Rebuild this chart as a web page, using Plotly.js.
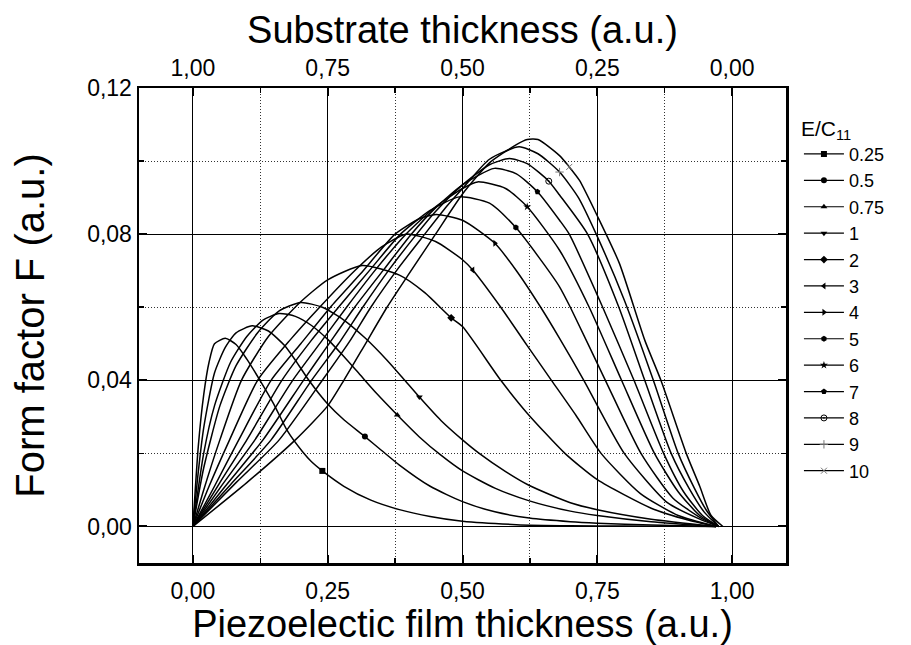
<!DOCTYPE html>
<html>
<head>
<meta charset="utf-8">
<script src="https://cdn.plot.ly/plotly-3.0.1.min.js"></script>
<style>
  html, body { margin: 0; padding: 0; background: #fff; }
  #chart { width: 911px; height: 645px; }
</style>
</head>
<body>
<div id="chart"></div>
<script>
// ---- Data ----
const CURVE_NAMES = ['0.25', '0.5', '0.75', '1', '2', '3', '4', '5', '6', '7', '8', '9', '10'];

const X_E025 = [0, 0.01, 0.02, 0.03, 0.04, 0.06, 0.08, 0.10, 0.126, 0.15, 0.175, 0.203, 0.22, 0.24, 0.28, 0.33, 0.383, 0.44, 0.5, 0.6, 0.7, 0.8, 0.9, 0.97];
const F_E025 = [0, 0.022, 0.036, 0.045, 0.050, 0.0515, 0.0498, 0.0458, 0.0396, 0.0335, 0.0262, 0.0205, 0.0177, 0.0152, 0.0110, 0.0072, 0.0046, 0.0027, 0.0014, 0.0005, 0.0002, 0.0001, 0.00005, 0];

const X_E05 = [0, 0.01, 0.02, 0.04, 0.06, 0.08, 0.11, 0.14, 0.17, 0.19, 0.215, 0.25, 0.28, 0.319, 0.35, 0.383, 0.44, 0.5, 0.56, 0.624, 0.7, 0.75, 0.85, 0.97];
const F_E05 = [0, 0.015, 0.027, 0.042, 0.049, 0.0530, 0.0549, 0.0535, 0.0495, 0.0455, 0.040, 0.0335, 0.0292, 0.0246, 0.0208, 0.0168, 0.0110, 0.0068, 0.0040, 0.0023, 0.0013, 0.0009, 0.0004, 0];

const X_E075 = [0, 0.02, 0.04, 0.07, 0.10, 0.13, 0.16, 0.19, 0.22, 0.25, 0.28, 0.31, 0.34, 0.379, 0.42, 0.46, 0.5, 0.56, 0.624, 0.7, 0.75, 0.85, 0.97];
const F_E075 = [0, 0.020, 0.033, 0.045, 0.052, 0.0565, 0.0583, 0.0575, 0.0550, 0.0512, 0.0465, 0.0415, 0.0365, 0.0305, 0.0245, 0.0195, 0.0152, 0.0105, 0.0070, 0.0042, 0.0030, 0.0013, 0];

const X_E1 = [0, 0.02, 0.05, 0.08, 0.12, 0.16, 0.20, 0.24, 0.28, 0.32, 0.36, 0.39, 0.42, 0.46, 0.5, 0.531, 0.58, 0.624, 0.7, 0.75, 0.85, 0.97];
const F_E1 = [0, 0.016, 0.033, 0.044, 0.053, 0.0590, 0.0613, 0.0600, 0.0565, 0.0515, 0.0455, 0.0405, 0.0354, 0.0290, 0.0237, 0.0200, 0.0150, 0.0112, 0.0065, 0.0046, 0.0020, 0];

const X_E2 = [0, 0.02, 0.05, 0.09, 0.14, 0.20, 0.25, 0.314, 0.383, 0.43, 0.479, 0.5, 0.571, 0.62, 0.69, 0.75, 0.85, 0.92, 0.97];
const F_E2 = [0, 0.010, 0.0237, 0.040, 0.052, 0.0615, 0.0675, 0.0714, 0.0688, 0.0640, 0.0571, 0.0547, 0.040, 0.031, 0.020, 0.0128, 0.0050, 0.0017, 0];

const X_E3 = [0, 0.03, 0.068, 0.12, 0.18, 0.235, 0.30, 0.35, 0.395, 0.45, 0.5, 0.519, 0.571, 0.62, 0.665, 0.71, 0.757, 0.83, 0.90, 0.97];
const F_E3 = [0, 0.011, 0.0237, 0.040, 0.051, 0.060, 0.070, 0.0765, 0.080, 0.0780, 0.0730, 0.0702, 0.060, 0.0495, 0.040, 0.0305, 0.020, 0.009, 0.003, 0];

const X_E4 = [0, 0.04, 0.085, 0.145, 0.20, 0.255, 0.31, 0.375, 0.42, 0.451, 0.5, 0.56, 0.60, 0.645, 0.68, 0.725, 0.80, 0.88, 0.94, 0.975];
const F_E4 = [0, 0.011, 0.0237, 0.040, 0.050, 0.060, 0.069, 0.080, 0.0842, 0.0854, 0.0838, 0.0775, 0.070, 0.060, 0.0515, 0.040, 0.020, 0.0065, 0.002, 0];

const X_E5 = [0, 0.05, 0.10, 0.165, 0.22, 0.27, 0.33, 0.385, 0.44, 0.494, 0.55, 0.599, 0.64, 0.68, 0.70, 0.765, 0.831, 0.89, 0.94, 0.975];
const F_E5 = [0, 0.012, 0.0237, 0.040, 0.051, 0.060, 0.0705, 0.080, 0.0865, 0.0902, 0.0885, 0.0818, 0.074, 0.0656, 0.060, 0.040, 0.020, 0.0078, 0.0025, 0];

const X_E6 = [0, 0.05, 0.115, 0.185, 0.24, 0.285, 0.34, 0.395, 0.45, 0.5, 0.528, 0.58, 0.62, 0.68, 0.735, 0.795, 0.856, 0.90, 0.94, 0.975];
const F_E6 = [0, 0.0105, 0.0237, 0.040, 0.051, 0.060, 0.0705, 0.080, 0.0875, 0.0925, 0.0943, 0.0925, 0.0875, 0.0756, 0.060, 0.040, 0.020, 0.0095, 0.003, 0];

const X_E7 = [0, 0.06, 0.13, 0.205, 0.25, 0.30, 0.355, 0.405, 0.45, 0.5, 0.559, 0.60, 0.639, 0.68, 0.698, 0.76, 0.818, 0.873, 0.91, 0.945, 0.975];
const F_E7 = [0, 0.011, 0.0237, 0.040, 0.0495, 0.060, 0.0705, 0.080, 0.0872, 0.0935, 0.098, 0.0965, 0.0916, 0.0838, 0.080, 0.060, 0.040, 0.020, 0.0095, 0.003, 0];

const X_E8 = [0, 0.07, 0.145, 0.22, 0.27, 0.315, 0.365, 0.415, 0.45, 0.5, 0.55, 0.587, 0.62, 0.66, 0.68, 0.732, 0.79, 0.838, 0.887, 0.92, 0.948, 0.975];
const F_E8 = [0, 0.0115, 0.0237, 0.040, 0.050, 0.060, 0.0705, 0.080, 0.0862, 0.0935, 0.0990, 0.1007, 0.0993, 0.0945, 0.0907, 0.080, 0.060, 0.040, 0.020, 0.0105, 0.004, 0];

const X_E9 = [0, 0.08, 0.16, 0.24, 0.29, 0.33, 0.38, 0.43, 0.47, 0.5, 0.55, 0.605, 0.64, 0.68, 0.715, 0.748, 0.80, 0.854, 0.90, 0.93, 0.952, 0.975];
const F_E9 = [0, 0.012, 0.0237, 0.040, 0.0505, 0.060, 0.0705, 0.080, 0.0875, 0.0925, 0.1005, 0.1039, 0.1020, 0.097, 0.090, 0.080, 0.062, 0.040, 0.020, 0.0105, 0.0045, 0];

const X_E10 = [0, 0.10, 0.19, 0.25, 0.28, 0.32, 0.36, 0.40, 0.45, 0.5, 0.55, 0.60, 0.62, 0.64, 0.68, 0.698, 0.717, 0.751, 0.791, 0.838, 0.868, 0.915, 0.94, 0.961, 0.983];
const F_E10 = [0, 0.012, 0.0237, 0.033, 0.040, 0.050, 0.060, 0.069, 0.080, 0.091, 0.0995, 0.1045, 0.1059, 0.1059, 0.1015, 0.0984, 0.0947, 0.0847, 0.072, 0.051, 0.040, 0.020, 0.011, 0.003, 0];

// one symbol point on every curve
const MARK_X = [0.24, 0.319, 0.379, 0.42, 0.479, 0.519, 0.56, 0.599, 0.62, 0.639, 0.66, 0.68, 0.698];
const MARK_F = [0.0152, 0.0246, 0.0305, 0.0354, 0.0571, 0.0702, 0.0775, 0.0818, 0.0875, 0.0916, 0.0945, 0.097, 0.0984];

// ---- Styles ----
const CURVES_X = [X_E025, X_E05, X_E075, X_E1, X_E2, X_E3, X_E4, X_E5, X_E6, X_E7, X_E8, X_E9, X_E10];
const CURVES_F = [F_E025, F_E05, F_E075, F_E1, F_E2, F_E3, F_E4, F_E5, F_E6, F_E7, F_E8, F_E9, F_E10];
const SYMBOLS = ['square', 'circle', 'triangle-up', 'triangle-down', 'diamond', 'triangle-left', 'triangle-right',
                 'hexagon', 'star', 'pentagon', 'circle-open-dot', 'cross-thin-open', 'x-thin-open'];
const MARK_COLORS = ['#000', '#000', '#000', '#000', '#000', '#000', '#000', '#000', '#000', '#000', '#000', '#777', '#777'];

const FONT = 'Liberation Sans, Arial, Helvetica, sans-serif';
const traces = [];

CURVE_NAMES.forEach((name, i) => {
  traces.push({
    x: CURVES_X[i], y: CURVES_F[i],
    type: 'scatter', mode: 'lines',
    line: { color: '#000', width: 1.5, shape: 'spline', smoothing: 0.6 },
    showlegend: false, hoverinfo: 'skip', legendgroup: 'g' + i
  });
});
CURVE_NAMES.forEach((name, i) => {
  const open = SYMBOLS[i].indexOf('open') >= 0;
  traces.push({
    x: [MARK_X[i]], y: [MARK_F[i]],
    type: 'scatter', mode: 'lines+markers', name: name,
    line: { color: '#000', width: 1.2 },
    marker: {
      symbol: SYMBOLS[i], size: 6,
      color: MARK_COLORS[i],
      line: { color: MARK_COLORS[i], width: open ? 1 : 0 }
    },
    legendgroup: 'g' + i
  });
});
// empty trace so the top (substrate) axis is drawn
traces.push({ x: [], y: [], xaxis: 'x2', type: 'scatter', mode: 'lines', showlegend: false, hoverinfo: 'skip' });

const tickCommon = {
  ticks: 'inside', ticklen: 8, tickwidth: 2, tickcolor: '#000',
  showline: true, linewidth: 2.5, linecolor: '#000',
  zeroline: false, tickformat: '.2f',
  tickfont: { family: FONT, size: 23, color: '#000' }
};
const DOT = '1px,2px';

const layout = {
  width: 911, height: 645,
  margin: { l: 139, r: 125, t: 88, b: 82 },
  paper_bgcolor: '#fff', plot_bgcolor: '#fff',
  separators: ',.',
  font: { family: FONT, color: '#000' },
  showlegend: true,
  xaxis: Object.assign({}, tickCommon, {
    range: [-0.1, 1.1], tick0: 0, dtick: 0.25,
    showgrid: true, gridcolor: '#000', gridwidth: 1,
    mirror: false, ticklabelstandoff: 6,
    minor: { tick0: 0, dtick: 0.125, ticks: 'inside', ticklen: 5, tickwidth: 1.5, tickcolor: '#000',
             showgrid: true, gridcolor: '#333', griddash: DOT, gridwidth: 1 },
    title: { text: 'Piezoelectic film thickness (a.u.)', font: { family: FONT, size: 38, color: '#000' }, standoff: 4 }
  }),
  xaxis2: Object.assign({}, tickCommon, {
    overlaying: 'x', side: 'top', anchor: 'y',
    range: [1.1, -0.1], tick0: 0, dtick: 0.25,
    showgrid: false,
    minor: { tick0: 0, dtick: 0.125, ticks: 'inside', ticklen: 5, tickwidth: 1.5, tickcolor: '#000', showgrid: false },
    title: { text: 'Substrate thickness (a.u.)', font: { family: FONT, size: 38, color: '#000' }, standoff: 0 }
  }),
  yaxis: Object.assign({}, tickCommon, {
    range: [-0.01, 0.12], tick0: 0, dtick: 0.04,
    showgrid: true, gridcolor: '#000', gridwidth: 1,
    mirror: 'ticks',
    minor: { tick0: 0, dtick: 0.02, ticks: 'inside', ticklen: 5, tickwidth: 1.5, tickcolor: '#000',
             showgrid: true, gridcolor: '#333', griddash: DOT, gridwidth: 1 },
    title: { text: 'Form factor F (a.u.)', font: { family: FONT, size: 40, color: '#000' }, standoff: 30 }
  }),
  legend: {
    x: 1.02, y: 0.957, xanchor: 'left', yanchor: 'top',
    bgcolor: 'rgba(0,0,0,0)', borderwidth: 0,
    font: { family: FONT, size: 18, color: '#000' },
    title: { text: 'E/C<sub>11</sub>', font: { family: FONT, size: 21, color: '#000' } },
    itemwidth: 40, traceorder: 'normal', tracegroupgap: 0
  }
};

Plotly.newPlot('chart', traces, layout, { displayModeBar: false, staticPlot: true });
</script>
</body>
</html>
